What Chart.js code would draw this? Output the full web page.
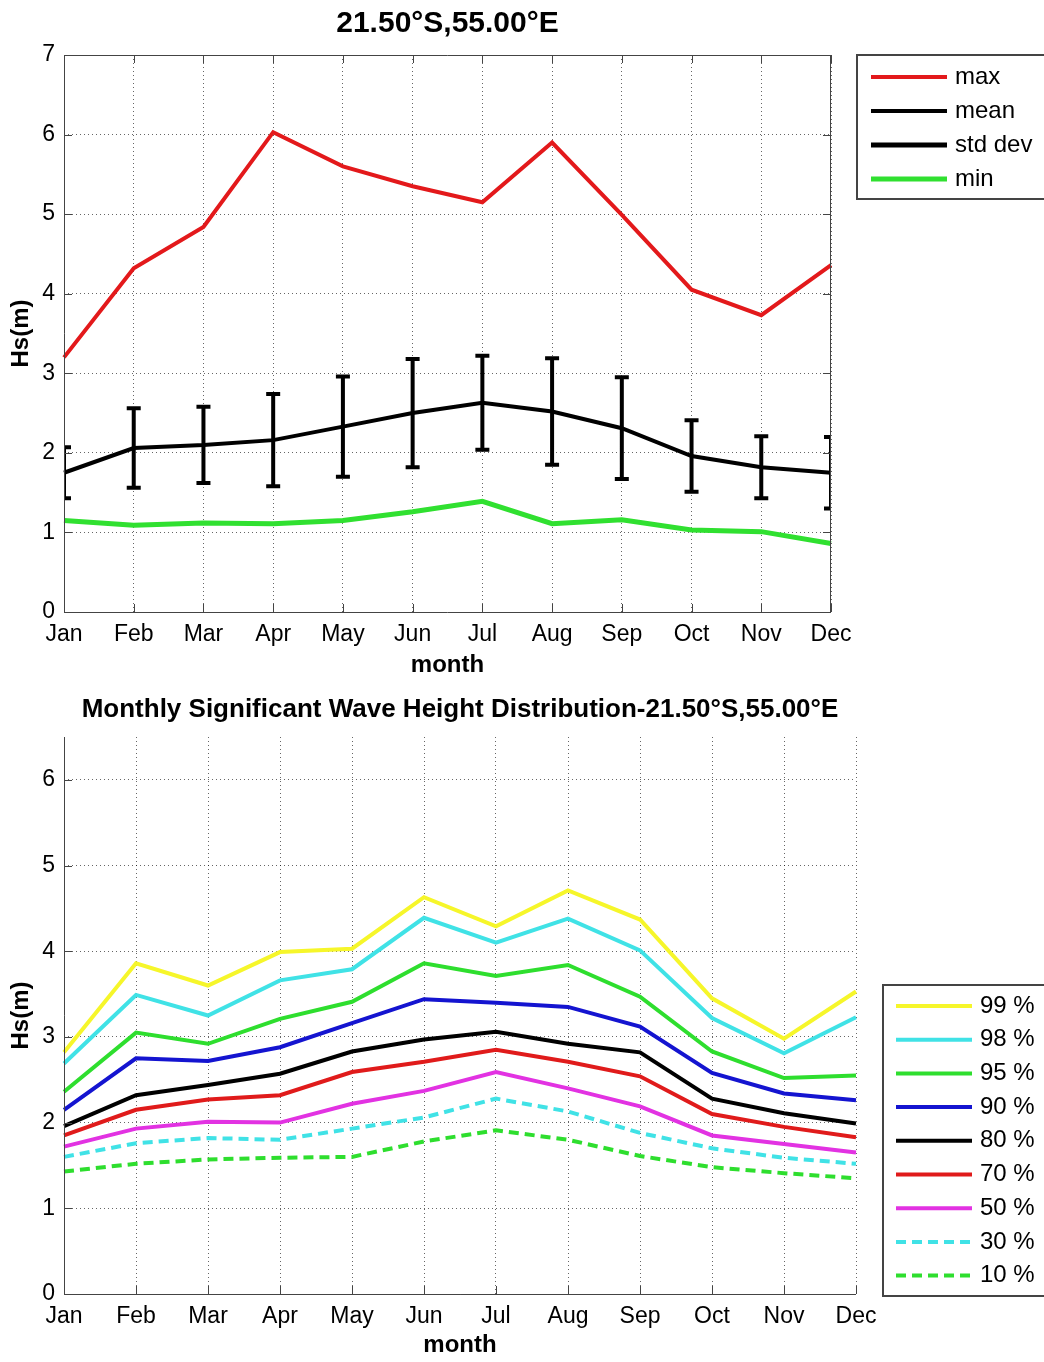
<!DOCTYPE html>
<html lang="en">
<head>
<meta charset="UTF-8">
<title>Hs monthly statistics 21.50°S,55.00°E</title>
<script src="https://cdn.jsdelivr.net/npm/chart.js"></script>
<style>
  body { margin: 0; background: #fff; }
  .wrap { position: relative; width: 1044px; height: 1362px; overflow: hidden; }
  canvas { position: absolute; left: 0; }
  #statsChart { top: 0; }
  #pctChart { top: 690px; }
</style>
</head>
<body>
<div class="wrap">
  <canvas id="statsChart" width="1044" height="690"></canvas>
  <canvas id="pctChart" width="1044" height="672"></canvas>
</div>
<script>
const months = ['Jan', 'Feb', 'Mar', 'Apr', 'May', 'Jun', 'Jul', 'Aug', 'Sep', 'Oct', 'Nov', 'Dec'];

// top panel: monthly max / mean (+- std dev) / min
const hsMax  = [3.20, 4.32, 4.84, 6.03, 5.60, 5.35, 5.15, 5.90, 4.99, 4.05, 3.73, 4.36];
const hsMean = [1.75, 2.06, 2.10, 2.16, 2.33, 2.50, 2.63, 2.52, 2.31, 1.96, 1.82, 1.75];
const hsStd  = [0.32, 0.50, 0.48, 0.58, 0.63, 0.68, 0.59, 0.67, 0.64, 0.45, 0.39, 0.45];
const hsMin  = [1.15, 1.09, 1.12, 1.11, 1.15, 1.26, 1.39, 1.11, 1.16, 1.03, 1.01, 0.86];

// bottom panel: percentiles
const p99 = [2.82, 3.86, 3.60, 3.99, 4.03, 4.63, 4.29, 4.71, 4.37, 3.45, 2.98, 3.53];
const p98 = [2.69, 3.49, 3.25, 3.66, 3.79, 4.39, 4.10, 4.38, 4.01, 3.22, 2.81, 3.23];
const p95 = [2.36, 3.05, 2.92, 3.21, 3.41, 3.86, 3.71, 3.84, 3.47, 2.83, 2.52, 2.55];
const p90 = [2.15, 2.75, 2.72, 2.88, 3.16, 3.44, 3.40, 3.35, 3.12, 2.58, 2.34, 2.26];
const p80 = [1.96, 2.32, 2.44, 2.57, 2.83, 2.97, 3.06, 2.92, 2.82, 2.28, 2.11, 1.99];
const p70 = [1.85, 2.15, 2.27, 2.32, 2.59, 2.71, 2.85, 2.71, 2.54, 2.10, 1.95, 1.83];
const p50 = [1.72, 1.93, 2.01, 2.00, 2.22, 2.37, 2.59, 2.40, 2.19, 1.85, 1.75, 1.65];
const p30 = [1.60, 1.76, 1.82, 1.80, 1.93, 2.06, 2.28, 2.13, 1.88, 1.70, 1.59, 1.52];
const p10 = [1.43, 1.52, 1.57, 1.59, 1.60, 1.78, 1.91, 1.80, 1.61, 1.48, 1.41, 1.35];

Chart.defaults.font.family = "'Liberation Sans', Arial, sans-serif";
Chart.defaults.color = '#000';

const gridColor = 'rgba(0,0,0,0.6)';
const axisColor = '#444';

// matlab style axes: solid left/bottom (optionally full box) + inward ticks
const matlabAxes = {
  id: 'matlabAxes',
  afterDraw(chart, args, opts) {
    const { ctx, chartArea: a, scales: { x, y } } = chart;
    const t = 8;
    ctx.save();
    ctx.strokeStyle = axisColor;
    ctx.lineWidth = 1;
    ctx.beginPath();
    ctx.moveTo(a.left + 0.5, a.top);
    ctx.lineTo(a.left + 0.5, a.bottom + 0.5);
    ctx.lineTo(a.right, a.bottom + 0.5);
    if (opts.box) {
      ctx.moveTo(a.left, a.top + 0.5);
      ctx.lineTo(a.right - 0.5, a.top + 0.5);
      ctx.lineTo(a.right - 0.5, a.bottom);
    }
    x.ticks.forEach((tk, i) => {
      const px = Math.round(x.getPixelForTick(i)) + 0.5;
      ctx.moveTo(px, a.bottom); ctx.lineTo(px, a.bottom - t);
      if (opts.box) { ctx.moveTo(px, a.top); ctx.lineTo(px, a.top + t); }
    });
    y.ticks.forEach((tk, i) => {
      const py = Math.round(y.getPixelForTick(i)) + 0.5;
      ctx.moveTo(a.left, py); ctx.lineTo(a.left + t, py);
      if (opts.box) { ctx.moveTo(a.right, py); ctx.lineTo(a.right - t, py); }
    });
    ctx.stroke();
    ctx.restore();
  }
};

// error bars (mean +- std)
const stdBars = {
  id: 'stdBars',
  afterDatasetsDraw(chart, args, opts) {
    if (!opts.std) return;
    const { ctx, chartArea: a, scales: { x, y } } = chart;
    ctx.save();
    ctx.beginPath();
    ctx.rect(a.left, a.top, a.width, a.height);
    ctx.clip();
    ctx.strokeStyle = opts.color;
    ctx.lineWidth = opts.width;
    ctx.beginPath();
    opts.centre.forEach((m, i) => {
      const px = x.getPixelForValue(i);
      const hi = y.getPixelForValue(m + opts.std[i]);
      const lo = y.getPixelForValue(m - opts.std[i]);
      ctx.moveTo(px, hi); ctx.lineTo(px, lo);
      ctx.moveTo(px - opts.cap, hi); ctx.lineTo(px + opts.cap, hi);
      ctx.moveTo(px - opts.cap, lo); ctx.lineTo(px + opts.cap, lo);
    });
    ctx.stroke();
    ctx.restore();
  }
};

// boxed legend outside the axes, like matlab's 'Location','NorthEastOutside'
const boxLegend = {
  id: 'boxLegend',
  afterDraw(chart, args, o) {
    const ctx = chart.ctx;
    const items = chart.data.datasets.map(ds => ({
      label: ds.label, color: ds.borderColor, width: ds.borderWidth, dash: ds.borderDash
    }));
    (o.extra || []).forEach(e => items.splice(e.at, 0, e));
    ctx.save();
    ctx.strokeStyle = axisColor;
    ctx.lineWidth = 2;
    ctx.strokeRect(o.left, o.top, o.width, o.height);
    ctx.font = o.fontSize + "px 'Liberation Sans', Arial, sans-serif";
    ctx.textBaseline = 'middle';
    items.forEach((it, i) => {
      const cy = o.firstY + i * o.step;
      ctx.strokeStyle = it.color;
      ctx.lineWidth = it.width;
      ctx.setLineDash(it.dash || []);
      ctx.beginPath();
      ctx.moveTo(o.lineX1, cy);
      ctx.lineTo(o.lineX2, cy);
      ctx.stroke();
      ctx.setLineDash([]);
      ctx.fillStyle = '#000';
      ctx.fillText(it.label, o.textX, cy);
    });
    ctx.restore();
  }
};

function line(label, data, color, width, dash) {
  return {
    label, data, borderColor: color, backgroundColor: color, borderWidth: width,
    borderDash: dash || [], pointRadius: 0, tension: 0, fill: false
  };
}

function scales(yMax, xHeight, monthPad) {
  return {
    x: {
      grid: { color: gridColor, drawTicks: false },
      border: { display: false, dash: [1, 3] },
      ticks: { font: { size: 23 }, padding: 9, maxRotation: 0, autoSkip: false },
      title: { display: true, text: 'month', font: { size: 24, weight: 'bold', lineHeight: 1 }, padding: { top: 0, bottom: monthPad } },
      afterFit: s => { s.height = xHeight; }
    },
    y: {
      min: 0, max: yMax,
      grid: { color: gridColor, drawTicks: false },
      border: { display: false, dash: [1, 3] },
      ticks: { stepSize: 1, font: { size: 23 }, padding: 9 },
      afterBuildTicks: s => { s.ticks = s.ticks.filter(t => Number.isInteger(t.value)); },
      title: { display: true, text: 'Hs(m)', font: { size: 24, weight: 'bold', lineHeight: 1 }, padding: { top: 9, bottom: 0 } },
      afterFit: s => { s.width = 64; }
    }
  };
}

new Chart(document.getElementById('statsChart'), {
  type: 'line',
  data: {
    labels: months,
    datasets: [
      line('max', hsMax, '#e3191b', 4),
      line('mean', hsMean, '#000000', 4),
      line('min', hsMin, '#30e030', 5)
    ]
  },
  options: {
    responsive: false,
    animation: false,
    layout: { padding: { left: 0, right: 213, top: 0, bottom: 0 } },
    plugins: {
      legend: { display: false },
      tooltip: { enabled: false },
      title: {
        display: true, text: '21.50°S,55.00°E', fullSize: false,
        font: { size: 30, weight: 'bold', lineHeight: 1 }, padding: { top: 9, bottom: 16 }
      },
      matlabAxes: { box: true },
      stdBars: { centre: hsMean, std: hsStd, color: '#000', width: 4, cap: 7 },
      boxLegend: {
        left: 857, top: 55, width: 200, height: 144,
        lineX1: 871, lineX2: 947, textX: 955, firstY: 77, step: 34, fontSize: 24,
        extra: [{ at: 2, label: 'std dev', color: '#000', width: 5 }]
      }
    },
    scales: scales(7, 78, 13)
  },
  plugins: [matlabAxes, stdBars, boxLegend]
});

new Chart(document.getElementById('pctChart'), {
  type: 'line',
  data: {
    labels: months,
    datasets: [
      line('99 %', p99, '#f6f62a', 4),
      line('98 %', p98, '#40e2e6', 4),
      line('95 %', p95, '#2ede2e', 4),
      line('90 %', p90, '#1414d0', 4),
      line('80 %', p80, '#000000', 4),
      line('70 %', p70, '#e01b1b', 4),
      line('50 %', p50, '#e232e2', 4),
      line('30 %', p30, '#40e2e6', 4, [10, 6]),
      line('10 %', p10, '#2ede2e', 4, [10, 6])
    ]
  },
  options: {
    responsive: false,
    animation: false,
    layout: { padding: { left: 0, right: 188, top: 0, bottom: 0 } },
    plugins: {
      legend: { display: false },
      tooltip: { enabled: false },
      title: {
        display: true, text: 'Monthly Significant Wave Height Distribution-21.50°S,55.00°E', fullSize: false,
        font: { size: 26, weight: 'bold', lineHeight: 1 }, padding: { top: 7, bottom: 14 }
      },
      matlabAxes: { box: false },
      boxLegend: {
        left: 883, top: 295, width: 200, height: 311,
        lineX1: 896, lineX2: 972, textX: 980, firstY: 316, step: 33.7, fontSize: 24
      }
    },
    scales: scales(6.5, 68, 5)
  },
  plugins: [matlabAxes, boxLegend]
});
</script>
</body>
</html>
